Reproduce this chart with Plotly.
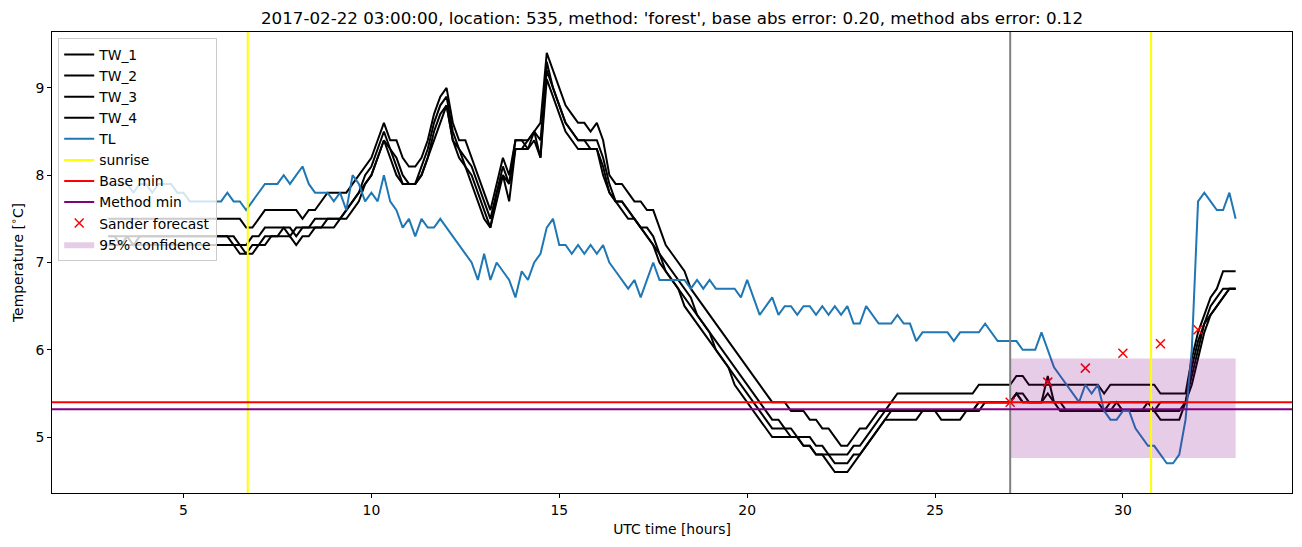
import plotly.graph_objects as go

# time axis: 10-minute samples from 03:00 (hours since start of day)
hours = [round(3 + i / 6, 4) for i in range(181)]

tw_1 = [7.5, 7.5, 7.5, 7.5, 7.5, 7.5,
        7.5, 7.5, 7.5, 7.5, 7.5, 7.5,
        7.5, 7.5, 7.5, 7.5, 7.5, 7.5,
        7.5, 7.5, 7.5, 7.5, 7.4, 7.4,
        7.5, 7.6, 7.6, 7.6, 7.6, 7.6,
        7.6, 7.5, 7.6, 7.6, 7.7, 7.8,
        7.8, 7.8, 7.8, 7.9, 8.0, 8.1,
        8.2, 8.4, 8.6, 8.4, 8.4, 8.2,
        8.1, 8.1, 8.2, 8.4, 8.7, 8.9,
        9.0, 8.6, 8.4, 8.4, 8.2, 8.0,
        7.8, 7.6, 7.9, 8.2, 8.0, 8.4,
        8.4, 8.4, 8.5, 8.6, 9.4, 9.2,
        9.0, 8.8, 8.7, 8.6, 8.6, 8.5,
        8.6, 8.4, 8.0, 7.9, 7.9, 7.8,
        7.7, 7.7, 7.6, 7.6, 7.4, 7.2,
        7.1, 7.0, 6.9, 6.7, 6.6, 6.5,
        6.4, 6.3, 6.2, 6.1, 6.0, 5.9,
        5.8, 5.7, 5.6, 5.5, 5.4, 5.4,
        5.4, 5.3, 5.3, 5.3, 5.2, 5.2,
        5.1, 5.1, 5.0, 4.9, 4.9, 5.0,
        5.1, 5.1, 5.2, 5.3, 5.3, 5.4,
        5.5, 5.5, 5.5, 5.5, 5.5, 5.5,
        5.5, 5.5, 5.5, 5.5, 5.5, 5.5,
        5.5, 5.6, 5.6, 5.6, 5.6, 5.6,
        5.6, 5.7, 5.7, 5.6, 5.6, 5.6,
        5.6, 5.6, 5.6, 5.6, 5.6, 5.6,
        5.6, 5.6, 5.6, 5.5, 5.6, 5.6,
        5.6, 5.6, 5.6, 5.6, 5.6, 5.6,
        5.5, 5.5, 5.5, 5.5, 5.5, 5.9,
        6.2, 6.4, 6.6, 6.7, 6.9, 6.9,
        6.9]

tw_2 = [7.3, 7.3, 7.2, 7.3, 7.3, 7.3,
        7.3, 7.3, 7.3, 7.3, 7.3, 7.3,
        7.3, 7.3, 7.3, 7.3, 7.3, 7.3,
        7.3, 7.3, 7.3, 7.2, 7.2, 7.3,
        7.3, 7.4, 7.4, 7.4, 7.4, 7.3,
        7.4, 7.4, 7.4, 7.5, 7.5, 7.5,
        7.5, 7.5, 7.6, 7.7, 7.8, 8.0,
        8.1, 8.3, 8.5, 8.3, 8.2, 8.0,
        7.9, 7.9, 8.1, 8.3, 8.6, 8.8,
        8.9, 8.5, 8.3, 8.2, 8.1, 7.9,
        7.7, 7.5, 7.8, 8.1, 7.9, 8.3,
        8.3, 8.4, 8.5, 8.4, 9.2, 9.0,
        8.8, 8.6, 8.5, 8.4, 8.4, 8.4,
        8.4, 8.2, 7.9, 7.7, 7.7, 7.6,
        7.5, 7.4, 7.4, 7.3, 7.1, 7.0,
        6.9, 6.8, 6.7, 6.6, 6.4, 6.3,
        6.2, 6.1, 6.0, 5.9, 5.8, 5.7,
        5.6, 5.5, 5.4, 5.3, 5.2, 5.2,
        5.1, 5.1, 5.0, 5.0, 5.0, 4.9,
        4.9, 4.8, 4.8, 4.8, 4.8, 4.9,
        4.9, 5.0, 5.1, 5.2, 5.3, 5.3,
        5.3, 5.3, 5.3, 5.3, 5.3, 5.3,
        5.3, 5.3, 5.3, 5.3, 5.3, 5.3,
        5.3, 5.4, 5.4, 5.4, 5.4, 5.4,
        5.4, 5.5, 5.5, 5.4, 5.4, 5.4,
        5.7, 5.4, 5.4, 5.4, 5.4, 5.4,
        5.4, 5.4, 5.4, 5.3, 5.4, 5.4,
        5.4, 5.4, 5.4, 5.4, 5.4, 5.3,
        5.4, 5.4, 5.4, 5.4, 5.4, 5.8,
        6.1, 6.3, 6.5, 6.6, 6.7, 6.7,
        6.7]

tw_3 = [7.3, 7.3, 7.3, 7.3, 7.2, 7.3,
        7.3, 7.3, 7.3, 7.3, 7.3, 7.3,
        7.3, 7.3, 7.3, 7.3, 7.3, 7.3,
        7.3, 7.3, 7.2, 7.2, 7.1, 7.1,
        7.2, 7.2, 7.3, 7.3, 7.4, 7.4,
        7.3, 7.4, 7.4, 7.4, 7.4, 7.5,
        7.5, 7.5, 7.6, 7.7, 7.8, 7.9,
        8.0, 8.2, 8.4, 8.3, 8.1, 7.9,
        7.9, 7.9, 8.0, 8.2, 8.5, 8.7,
        8.8, 8.4, 8.3, 8.1, 8.0, 7.8,
        7.6, 7.4, 7.8, 8.0, 7.9, 8.4,
        8.4, 8.3, 8.5, 8.2, 9.3, 9.0,
        8.8, 8.6, 8.5, 8.4, 8.4, 8.3,
        8.3, 8.1, 7.8, 7.7, 7.7, 7.6,
        7.5, 7.4, 7.3, 7.2, 7.1, 6.9,
        6.8, 6.7, 6.6, 6.5, 6.4, 6.3,
        6.2, 6.0, 5.9, 5.8, 5.7, 5.6,
        5.5, 5.4, 5.3, 5.2, 5.1, 5.1,
        5.1, 5.0, 5.0, 4.9, 4.9, 4.8,
        4.8, 4.8, 4.7, 4.7, 4.7, 4.8,
        4.8, 4.9, 5.0, 5.1, 5.2, 5.3,
        5.3, 5.3, 5.3, 5.3, 5.3, 5.3,
        5.3, 5.3, 5.3, 5.3, 5.3, 5.3,
        5.3, 5.3, 5.4, 5.4, 5.4, 5.4,
        5.4, 5.5, 5.4, 5.4, 5.4, 5.4,
        5.5, 5.4, 5.4, 5.3, 5.3, 5.3,
        5.3, 5.3, 5.3, 5.3, 5.3, 5.4,
        5.3, 5.3, 5.3, 5.3, 5.4, 5.3,
        5.3, 5.3, 5.3, 5.3, 5.4, 5.7,
        6.0, 6.3, 6.4, 6.5, 6.6, 6.7,
        6.7]

tw_4 = [7.2, 7.2, 7.2, 7.2, 7.2, 7.2,
        7.2, 7.2, 7.2, 7.2, 7.2, 7.2,
        7.2, 7.2, 7.2, 7.2, 7.2, 7.2,
        7.2, 7.2, 7.2, 7.1, 7.1, 7.2,
        7.2, 7.3, 7.3, 7.3, 7.3, 7.3,
        7.2, 7.3, 7.3, 7.4, 7.4, 7.4,
        7.4, 7.5, 7.5, 7.6, 7.7, 7.9,
        8.0, 8.2, 8.4, 8.2, 8.0, 7.9,
        7.9, 7.9, 8.0, 8.2, 8.4, 8.6,
        8.8, 8.4, 8.2, 8.1, 7.9, 7.7,
        7.5, 7.4, 7.7, 8.0, 7.7, 8.3,
        8.3, 8.3, 8.4, 8.2, 9.1, 8.9,
        8.7, 8.5, 8.4, 8.3, 8.3, 8.3,
        8.3, 8.0, 7.8, 7.7, 7.6, 7.5,
        7.5, 7.4, 7.3, 7.2, 7.0, 6.9,
        6.8, 6.7, 6.5, 6.4, 6.3, 6.2,
        6.1, 6.0, 5.9, 5.8, 5.6, 5.5,
        5.4, 5.3, 5.2, 5.1, 5.0, 5.0,
        5.0, 5.0, 5.0, 4.9, 4.9, 4.8,
        4.8, 4.7, 4.6, 4.6, 4.6, 4.7,
        4.8, 4.9, 5.0, 5.1, 5.2, 5.2,
        5.2, 5.2, 5.2, 5.2, 5.3, 5.3,
        5.3, 5.2, 5.2, 5.2, 5.2, 5.3,
        5.3, 5.4, 5.4, 5.4, 5.4, 5.4,
        5.4, 5.5, 5.4, 5.4, 5.4, 5.4,
        5.4, 5.4, 5.3, 5.3, 5.3, 5.3,
        5.3, 5.3, 5.3, 5.3, 5.3, 5.3,
        5.3, 5.3, 5.3, 5.3, 5.3, 5.3,
        5.2, 5.2, 5.2, 5.2, 5.4, 5.6,
        5.9, 6.2, 6.4, 6.5, 6.6, 6.7,
        6.7]

tl = [7.9, 7.9, 7.9, 7.9, 7.8, 7.9,
      7.9, 7.8, 7.9, 7.9, 7.9, 7.8,
      7.8, 7.7, 7.7, 7.7, 7.7, 7.7,
      7.7, 7.8, 7.7, 7.7, 7.6, 7.7,
      7.8, 7.9, 7.9, 7.9, 8.0, 7.9,
      8.0, 8.1, 7.9, 7.8, 7.8, 7.8,
      7.7, 7.8, 7.6, 8.0, 7.9, 7.7,
      7.8, 7.7, 8.0, 7.7, 7.6, 7.4,
      7.5, 7.3, 7.5, 7.4, 7.4, 7.5,
      7.4, 7.3, 7.2, 7.1, 7.0, 6.8,
      7.1, 6.8, 7.0, 6.9, 6.8, 6.6,
      6.9, 6.8, 7.0, 7.1, 7.4, 7.5,
      7.2, 7.2, 7.1, 7.2, 7.1, 7.2,
      7.1, 7.2, 7.0, 6.9, 6.8, 6.7,
      6.8, 6.6, 6.8, 7.0, 6.8, 6.8,
      6.8, 6.8, 6.8, 6.7, 6.8, 6.7,
      6.8, 6.7, 6.7, 6.7, 6.7, 6.6,
      6.8, 6.6, 6.4, 6.5, 6.6, 6.4,
      6.5, 6.5, 6.4, 6.5, 6.5, 6.4,
      6.5, 6.4, 6.5, 6.4, 6.5, 6.3,
      6.3, 6.5, 6.4, 6.3, 6.3, 6.3,
      6.4, 6.3, 6.3, 6.1, 6.2, 6.2,
      6.2, 6.2, 6.2, 6.1, 6.2, 6.2,
      6.2, 6.2, 6.3, 6.2, 6.1, 6.1,
      6.1, 6.1, 6.0, 6.0, 6.0, 6.2,
      6.0, 5.8, 5.7, 5.6, 5.5, 5.4,
      5.6, 5.5, 5.6, 5.3, 5.2, 5.2,
      5.3, 5.3, 5.1, 5.0, 4.9, 4.9,
      4.8, 4.7, 4.7, 4.8, 5.2, 6.0,
      7.7, 7.8, 7.7, 7.6, 7.6, 7.8,
      7.5]

sunrise_hours = [6.71, 30.75]
forecast_start = 27.0
base_min = 5.40
method_min = 5.32
sander_hours = [27, 28, 29, 30, 31, 32]
sander_forecast = [5.40, 5.63, 5.79, 5.96, 6.07, 6.23]
conf_hours = [27, 33]
conf_low = 4.76
conf_high = 5.90

FONT = "DejaVu Sans"
fig = go.Figure()

for name, vals in [("TW_1", tw_1), ("TW_2", tw_2), ("TW_3", tw_3), ("TW_4", tw_4)]:
    fig.add_trace(go.Scatter(x=hours, y=vals, mode="lines", name=name,
                             line=dict(color="black", width=2)))
fig.add_trace(go.Scatter(x=hours, y=tl, mode="lines", name="TL",
                         line=dict(color="#1f77b4", width=2)))
for name, col in [("sunrise", "yellow"), ("Base min", "red"), ("Method min", "purple")]:
    fig.add_trace(go.Scatter(x=[None], y=[None], mode="lines", name=name,
                             line=dict(color=col, width=2)))
fig.add_trace(go.Scatter(x=sander_hours, y=sander_forecast, mode="markers", name="Sander forecast",
                         marker=dict(symbol="x-thin", size=9, color="red",
                                     line=dict(color="red", width=1.5))))
fig.add_trace(go.Scatter(x=[conf_hours[0], conf_hours[1], conf_hours[1], conf_hours[0], conf_hours[0]],
                         y=[conf_low, conf_low, conf_high, conf_high, conf_low],
                         mode="lines", fill="toself", fillcolor="rgba(128,0,128,0.2)",
                         line=dict(width=0, color="rgba(128,0,128,0.2)"),
                         name="95% confidence"))

for sx in sunrise_hours:
    fig.add_vline(x=sx, line=dict(color="yellow", width=2), layer="above")
fig.add_vline(x=forecast_start, line=dict(color="gray", width=2), layer="above")
fig.add_hline(y=base_min, line=dict(color="red", width=2), layer="above")
fig.add_hline(y=method_min, line=dict(color="purple", width=2), layer="above")

axis_common = dict(showline=True, linecolor="black", linewidth=1, mirror=True, ticks="outside",
                   ticklen=4, tickwidth=1, tickcolor="black", showgrid=False, zeroline=False,
                   tickfont=dict(family=FONT, size=13.9, color="black"))
fig.update_xaxes(range=[1.5, 34.5], tickvals=[5, 10, 15, 20, 25, 30],
                 title=dict(text="UTC time [hours]", font=dict(family=FONT, size=13.9, color="black"),
                            standoff=7), **axis_common)
fig.update_yaxes(range=[4.36, 9.64], tickvals=[5, 6, 7, 8, 9],
                 title=dict(text="Temperature [<sup>∘</sup>C]", font=dict(family=FONT, size=13.9, color="black"),
                            standoff=8), **axis_common)

fig.update_layout(
    width=1302, height=547,
    margin=dict(l=52, r=10, t=32, b=54),
    plot_bgcolor="white", paper_bgcolor="white",
    font=dict(family=FONT, size=13.9, color="black"),
    title=dict(text="2017-02-22 03:00:00, location: 535, method: 'forest', base abs error: 0.20, method abs error: 0.12",
               x=0.5, xref="paper", xanchor="center", y=1 - 18 / 547, yref="container", yanchor="middle",
               font=dict(family=FONT, size=16.7, color="black")),
    legend=dict(x=0.005, y=0.987, xanchor="left", yanchor="top", bgcolor="rgba(255,255,255,0.8)",
                bordercolor="#cccccc", borderwidth=1, tracegroupgap=0,
                font=dict(family=FONT, size=13.9, color="black")),
    showlegend=True,
)

fig.write_html("out.html")
